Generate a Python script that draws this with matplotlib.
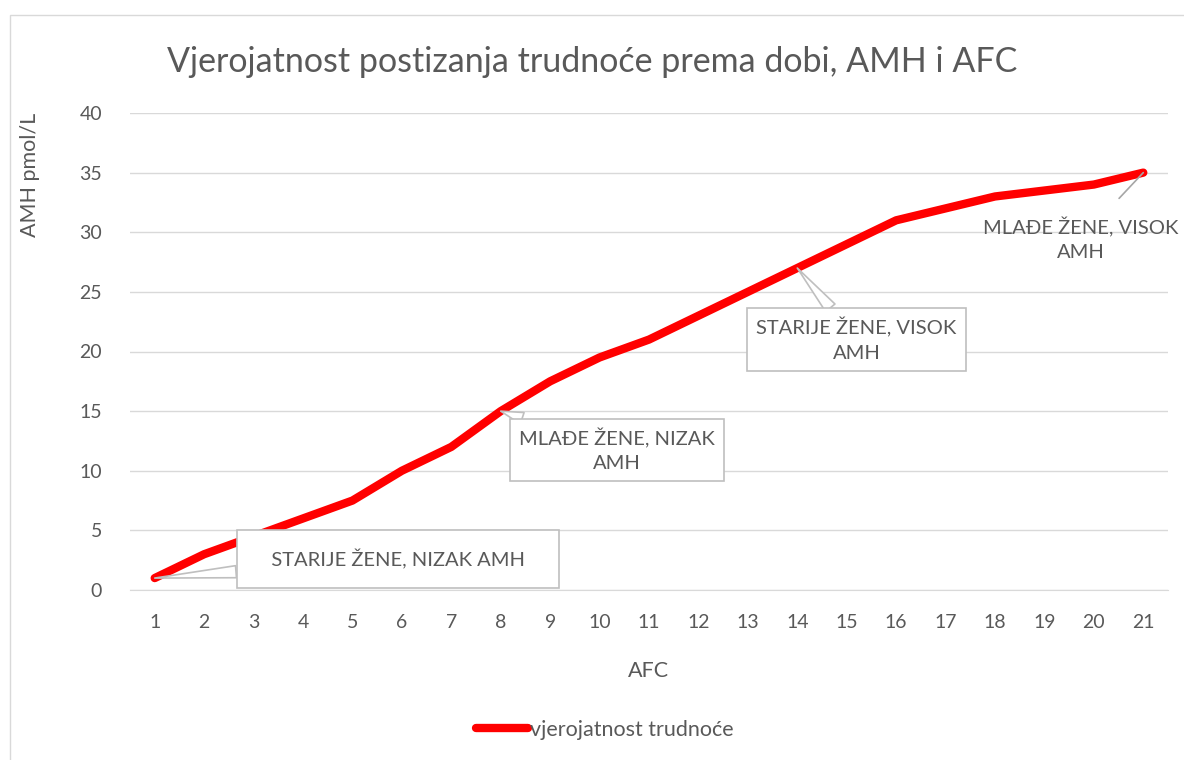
import matplotlib
matplotlib.use("Agg")
import matplotlib.pyplot as plt
from matplotlib.patches import Rectangle

plt.rcParams['font.family'] = ['Lato', 'DejaVu Sans']

afc_labels = ['1', '2', '3', '4', '5', '6', '7', '8', '9', '10', '11', '12', '13', '14', '15', '16', '17', '18', '19', '20', '21']
amh_values = [1, 3, 4.5, 6, 7.5, 10, 12, 15, 17.5, 19.5, 21, 23, 25, 27, 29, 31, 32, 33, 33.5, 34, 35]
series_name = 'vjerojatnost trudnoće'
title = 'Vjerojatnost postizanja trudnoće prema dobi, AMH i AFC'
y_ticks = [0, 5, 10, 15, 20, 25, 30, 35, 40]

annotations = [
    # (point index, text, text x, text y, boxed)
    (0, 'STARIJE ŽENE, NIZAK AMH', 5.92, 2.6, True),
    (7, 'MLAĐE ŽENE, NIZAK\nAMH', 10.36, 11.74, True),
    (13, 'STARIJE ŽENE, VISOK\nAMH', 15.2, 21.0, True),
    (20, 'MLAĐE ŽENE, VISOK\nAMH', 19.73, 29.4, False),
]

TEXT = '#595959'
GRID = '#d9d9d9'

fig = plt.figure(figsize=(11.84, 7.6), dpi=100)
fig.patches.append(Rectangle((10/1184, -0.01), 1.0, 1 - 15/760 + 0.01, transform=fig.transFigure,
                             fill=False, edgecolor=GRID, linewidth=1))
ax = fig.add_axes([130/1184, 1 - 590/760, (1168-130)/1184, (590-113)/760])

x = list(range(1, len(afc_labels) + 1))
line, = ax.plot(x, amh_values, color='#ff0000', linewidth=6, solid_capstyle='round',
                solid_joinstyle='round', label=series_name, zorder=3)

ax.set_xlim(0.5, len(afc_labels) + 0.5)
ax.set_ylim(0, 40)
ax.set_yticks(y_ticks)
ax.set_xticks(x)
ax.set_xticklabels(afc_labels)
ax.grid(axis='y', color=GRID, linewidth=1)
ax.set_axisbelow(True)
for s in ['top', 'right', 'left']:
    ax.spines[s].set_visible(False)
ax.spines['bottom'].set_color(GRID)
ax.tick_params(axis='both', length=0, labelsize=14, colors=TEXT)
ax.tick_params(axis='x', pad=17)
ax.tick_params(axis='y', pad=20)
ax.set_xlabel('AFC', fontsize=15.5, color=TEXT)
ax.xaxis.set_label_coords(0.5, -0.148)
ax.set_ylabel('AMH pmol/L', fontsize=15.5, color=TEXT)
ax.yaxis.set_label_coords(-0.087, 0.87)

fig.text(0.5, 1 - 62/760, title, ha='center', va='center', fontsize=24.5, color=TEXT)

for idx, txt, tx, ty, boxed in annotations:
    kw = dict(xy=(x[idx], amh_values[idx]), xytext=(tx, ty), textcoords='data',
              ha='center', va='center', fontsize=14.5, color=TEXT, zorder=5, linespacing=1.5)
    if boxed:
        pad = 0.95 if idx == 0 else 0.45
        t = txt if idx != 0 else '   ' + txt + '   '
        ax.annotate(t, bbox=dict(boxstyle=f'square,pad={pad}', fc='white', ec='#bfbfbf', lw=1.2),
                    arrowprops=dict(arrowstyle='wedge,tail_width=0.6,shrink_factor=0.5', fc='white',
                                    ec='#bfbfbf', lw=1.2, shrinkA=0, shrinkB=0), **kw)
    else:
        ax.annotate(txt, arrowprops=dict(arrowstyle='-', color='#a6a6a6', lw=1.2,
                                         shrinkA=16, shrinkB=0), **kw)

fig.legend(handles=[line], loc='center', bbox_to_anchor=(0.511, 1 - 730/760), frameon=False,
           fontsize=15.5, labelcolor=TEXT, handlelength=2.4, handletextpad=0.1)

fig.savefig('out.png', dpi=100)
